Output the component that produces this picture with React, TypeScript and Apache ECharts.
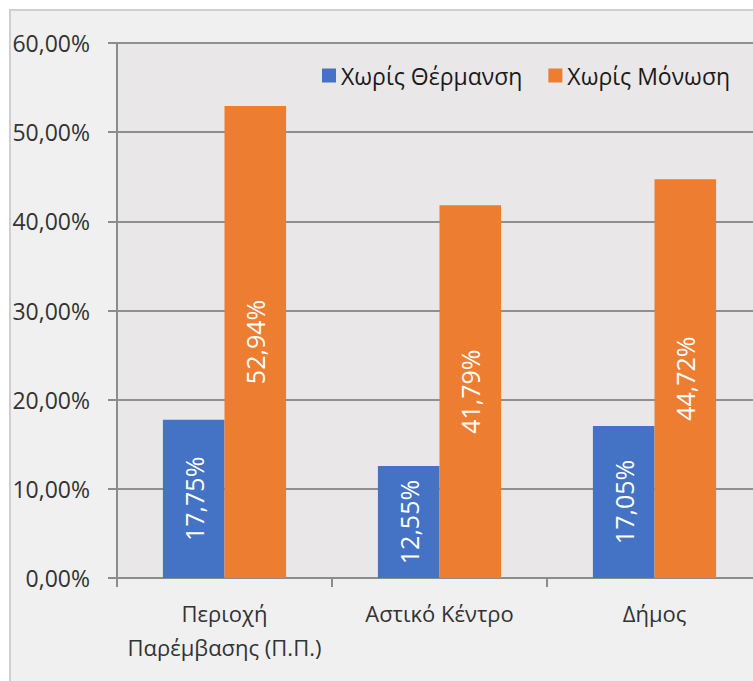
import React, { useEffect, useRef } from "react";
import * as echarts from "echarts";

const categories = ["Περιοχή\nΠαρέμβασης (Π.Π.)", "Αστικό Κέντρο", "Δήμος"];
const seriesNames = ["Χωρίς Θέρμανση", "Χωρίς Μόνωση"];
const noHeating = [17.75, 12.55, 17.05];
const noInsulation = [52.94, 41.79, 44.72];
const colors = ["#4472c4", "#ed7d31"];

const fmt = (v: number) => v.toFixed(2).replace(".", ",") + "%";
const FONT = "'Open Sans', 'Noto Sans', sans-serif";

export default function App() {
  const ref = useRef<HTMLDivElement>(null);
  useEffect(() => {
    document.body.style.margin = "0";
    const chart = echarts.init(ref.current!, null, { renderer: "svg" });
    const barLabel = {
      show: true,
      position: "inside",
      rotate: 90,
      color: "#ffffff",
      fontSize: 25,
      fontFamily: FONT,
      formatter: (p: any) => fmt(p.value),
    };
    chart.setOption({
      animation: false,
      backgroundColor: "#ffffff",
      textStyle: { fontFamily: FONT },
      graphic: [
        {
          type: "rect",
          z: -10,
          shape: { x: 10, y: 10, width: 800, height: 720 },
          style: { fill: "#f0f0f0", stroke: "#cfcfcf", lineWidth: 2 },
        },
      ],
      grid: {
        left: 117,
        top: 43,
        right: 8,
        bottom: 103,
        show: true,
        backgroundColor: "#e9e7e8",
        borderWidth: 0,
      },
      legend: {
        left: 317,
        top: 59,
        itemWidth: 14,
        itemHeight: 14,
        itemGap: 26,
        icon: "rect",
        textStyle: { fontSize: 23, color: "#1a1a1a", fontFamily: FONT },
        data: seriesNames,
      },
      xAxis: {
        type: "category",
        data: categories,
        axisLine: { lineStyle: { color: "#8c8c8c", width: 2 } },
        axisTick: { show: true, length: 9, lineStyle: { color: "#8c8c8c", width: 2 } },
        axisLabel: {
          fontSize: 22,
          color: "#333333",
          lineHeight: 34,
          margin: 18,
          interval: 0,
        },
      },
      yAxis: {
        type: "value",
        min: 0,
        max: 60,
        interval: 10,
        axisLine: { show: true, lineStyle: { color: "#8c8c8c", width: 2 } },
        axisTick: { show: true, length: 9, lineStyle: { color: "#8c8c8c", width: 2 } },
        splitLine: { lineStyle: { color: "#8f8f8f", width: 2 } },
        axisLabel: {
          fontSize: 23,
          color: "#333333",
          margin: 27,
          formatter: (v: number) => fmt(v),
        },
      },
      series: [
        {
          name: seriesNames[0],
          type: "bar",
          data: noHeating,
          itemStyle: { color: colors[0] },
          barGap: "0%",
          barCategoryGap: "42.7%",
          label: barLabel,
        },
        {
          name: seriesNames[1],
          type: "bar",
          data: noInsulation,
          itemStyle: { color: colors[1] },
          barGap: "0%",
          barCategoryGap: "42.7%",
          label: barLabel,
        },
      ],
    });
    return () => chart.dispose();
  }, []);
  return (
    <div
      style={{
        position: "fixed",
        left: 0,
        top: 0,
        width: 753,
        height: 681,
        overflow: "hidden",
      }}
    >
      <div ref={ref} style={{ width: 770, height: 681 }} />
    </div>
  );
}
